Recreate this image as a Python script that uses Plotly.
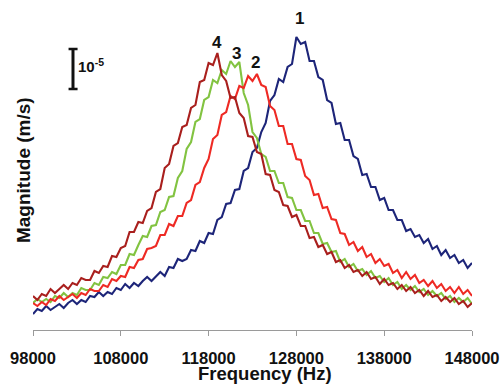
import plotly.graph_objects as go

# Frequency sampling (Hz)
freq = list(range(98000, 148001, 500))

# Magnitudes in µm/s (scale bar = 10 µm/s = 1e-5 m/s)
mag_1 = [4.0, 5.25, 4.75, 6.0, 5.0, 5.75, 6.5, 5.5, 6.75, 7.5,
         6.5, 7.5, 7.0, 8.5, 8.25, 9.5, 8.5, 9.5, 9.0, 10.5,
         10.0, 11.5, 10.5, 11.75, 11.0, 12.25, 13.25, 12.25, 13.25, 14.5,
         13.5, 15.75, 15.5, 17.75, 17.25, 17.75, 20.0, 19.75, 22.25, 21.75,
         24.25, 24.0, 27.5, 28.25, 31.5, 31.75, 35.0, 35.25, 39.75, 40.5,
         44.5, 45.5, 49.5, 51.75, 57.25, 58.75, 62.75, 62.0, 65.75, 66.5,
         73.25, 71.5, 72.0, 67.25, 67.25, 63.25, 62.5, 57.5, 56.75, 51.5,
         51.75, 47.5, 47.5, 43.5, 42.75, 38.75, 39.0, 35.75, 35.75, 32.5,
         33.0, 30.0, 30.0, 27.5, 27.5, 24.75, 25.25, 23.25, 23.75, 21.75,
         22.75, 20.25, 21.0, 18.75, 20.0, 18.0, 18.75, 16.75, 17.5, 15.5,
         16.75]
mag_2 = [6.75, 6.0, 7.0, 6.25, 7.75, 7.25, 8.5, 7.5, 8.25, 9.0,
         8.0, 9.25, 8.75, 10.25, 9.75, 9.75, 11.25, 10.75, 12.75, 12.25,
         13.5, 13.25, 15.75, 15.5, 17.5, 17.75, 20.25, 20.5, 21.0, 23.75,
         23.75, 26.5, 26.0, 28.5, 28.5, 31.75, 32.5, 36.25, 37.0, 40.5,
         42.75, 47.75, 48.75, 53.75, 54.5, 58.5, 57.75, 61.0, 60.5, 63.5,
         62.25, 64.0, 61.25, 60.75, 56.0, 55.0, 51.0, 51.0, 46.5, 46.5,
         42.75, 42.5, 38.5, 37.5, 33.75, 34.0, 30.5, 30.75, 27.75, 27.5,
         24.25, 24.0, 21.25, 22.0, 19.75, 20.75, 18.25, 19.0, 16.75, 17.75,
         16.0, 16.5, 14.25, 15.0, 13.0, 14.5, 12.75, 13.75, 11.75, 12.5,
         11.0, 12.25, 10.5, 11.5, 9.75, 10.75, 9.25, 10.75, 9.0, 10.0,
         8.5]
mag_3 = [6.75, 7.75, 7.0, 7.75, 7.0, 8.5, 8.0, 9.25, 8.25, 9.25,
         8.75, 10.5, 10.0, 10.0, 11.75, 11.25, 13.25, 13.0, 14.5, 14.0,
         16.25, 16.25, 19.0, 18.75, 21.25, 23.5, 23.25, 26.0, 26.25, 29.5,
         30.0, 33.25, 33.5, 38.0, 39.75, 45.25, 47.0, 52.0, 52.75, 57.5,
         58.25, 62.5, 61.75, 65.0, 64.0, 67.25, 65.75, 67.0, 59.25, 56.25,
         49.5, 48.0, 44.0, 43.25, 39.75, 39.75, 36.75, 36.75, 33.25, 33.0,
         30.0, 30.0, 27.25, 27.25, 24.25, 24.25, 21.5, 21.75, 19.5, 19.75,
         17.0, 17.75, 15.75, 16.5, 14.75, 15.25, 13.75, 14.75, 13.0, 13.5,
         12.0, 13.0, 11.25, 12.0, 10.25, 11.25, 10.0, 11.0, 9.5, 10.25,
         8.75, 9.75, 8.5, 9.25, 7.75, 8.5, 7.0, 8.0, 7.0, 8.0,
         6.5]
mag_4 = [8.5, 7.5, 9.0, 8.5, 10.25, 9.25, 10.25, 11.25, 10.25, 11.75,
         11.25, 13.0, 12.5, 12.5, 14.75, 14.25, 16.0, 15.75, 18.5, 18.25,
         20.5, 21.0, 24.5, 24.5, 27.0, 26.75, 29.75, 30.5, 34.5, 35.25,
         40.5, 41.5, 46.0, 46.75, 50.75, 51.25, 55.5, 56.25, 62.0, 62.5,
         66.75, 66.25, 69.25, 63.75, 62.25, 58.0, 58.25, 54.25, 53.0, 48.5,
         48.25, 44.5, 44.0, 39.0, 38.75, 35.0, 34.5, 31.25, 31.0, 28.25,
         28.75, 26.0, 26.0, 23.0, 23.25, 20.75, 21.25, 19.0, 19.5, 17.0,
         17.5, 15.5, 16.25, 14.5, 15.0, 13.5, 14.5, 12.75, 13.25, 11.5,
         12.75, 11.25, 11.75, 10.25, 11.25, 9.75, 10.75, 9.25, 10.0, 8.5,
         9.75, 8.25, 8.75, 7.25, 8.25, 7.0, 8.0, 6.5, 7.25, 5.75,
         6.75]

series_names = ["1", "2", "3", "4"]
tick_vals = [98000, 108000, 118000, 128000, 138000, 148000]
tick_text = ["98000", "108000", "118000", "128000", "138000", "148000"]
scale_bar = 10.0   # µm/s  (= 1e-5 m/s)

colors = {"1": "#1d2579", "2": "#ee2a24", "3": "#82c341", "4": "#a91f1d"}
data = {"1": mag_1, "2": mag_2, "3": mag_3, "4": mag_4}

FONT = "Liberation Sans, Arial, sans-serif"
fig = go.Figure()
for name in ["1", "3", "2", "4"]:
    fig.add_trace(go.Scatter(x=freq, y=data[name], mode="lines", name=name,
                             line=dict(color=colors[name], width=2.1),
                             showlegend=False, hoverinfo="skip"))

# peak labels
label_shift = {"1": (3, 19), "2": (-1, 12), "3": (6, 8), "4": (0, 11)}
for name in series_names:
    ys = data[name]
    k = max(range(len(ys)), key=lambda i: ys[i])
    dx, dy = label_shift[name]
    fig.add_annotation(x=freq[k], y=ys[k], text=f"<b>{name}</b>", showarrow=False,
                       xanchor="center", yanchor="middle", xshift=dx, yshift=dy,
                       font=dict(family=FONT, size=17, color="#111"))

# scale bar
top = 70.25
fig.add_shape(type="line", xref="paper", yref="y", x0=0.0911, x1=0.0911,
              y0=top - scale_bar, y1=top, line=dict(color="#111", width=3))
for yy in (top - scale_bar, top):
    fig.add_shape(type="line", xref="paper", yref="y", x0=0.081, x1=0.1015,
                  y0=yy, y1=yy, line=dict(color="#111", width=2.5))
fig.add_annotation(xref="paper", yref="y", x=0.098, y=top - scale_bar / 2 + 1,
                   text="<b>10<sup>-5</sup></b>", showarrow=False,
                   xanchor="left", yanchor="middle",
                   font=dict(family=FONT, size=15, color="#111"))

# axis titles
fig.add_annotation(xref="paper", yref="paper", x=0.528, y=0, yshift=-43,
                   text="<b>Frequency (Hz)</b>", showarrow=False,
                   xanchor="center", yanchor="middle", borderpad=0,
                   font=dict(family=FONT, size=18.5, color="#111"))
fig.add_annotation(xref="paper", yref="paper", x=0, xshift=-10, y=0.516,
                   text="<b>Magnitude (m/s)</b>", showarrow=False, textangle=-90,
                   xanchor="center", yanchor="middle",
                   font=dict(family=FONT, size=19, color="#111"))

fig.update_layout(
    width=504, height=385,
    margin=dict(l=33, r=32, t=20, b=55, autoexpand=False),
    paper_bgcolor="white", plot_bgcolor="white",
    hovermode=False,
    xaxis=dict(range=[98000, 148000], tickvals=tick_vals, ticktext=tick_text,
               automargin=False, fixedrange=True,
               showgrid=False, zeroline=False, showline=True, linecolor="#9a9a9a",
               linewidth=1, ticks="outside", ticklen=5, tickcolor="#9a9a9a",
               ticklabelstandoff=8,
               tickfont=dict(family=FONT, size=16.5, color="#111", weight="bold")),
    yaxis=dict(range=[0, 77.5], visible=False, automargin=False, fixedrange=True),
)

# remove the default page margin so the figure sits at the window's corner
fig.write_html("out.html",
               config={"displayModeBar": False, "staticPlot": True},
               post_script="document.body.style.margin='0';document.body.style.overflow='hidden';")
